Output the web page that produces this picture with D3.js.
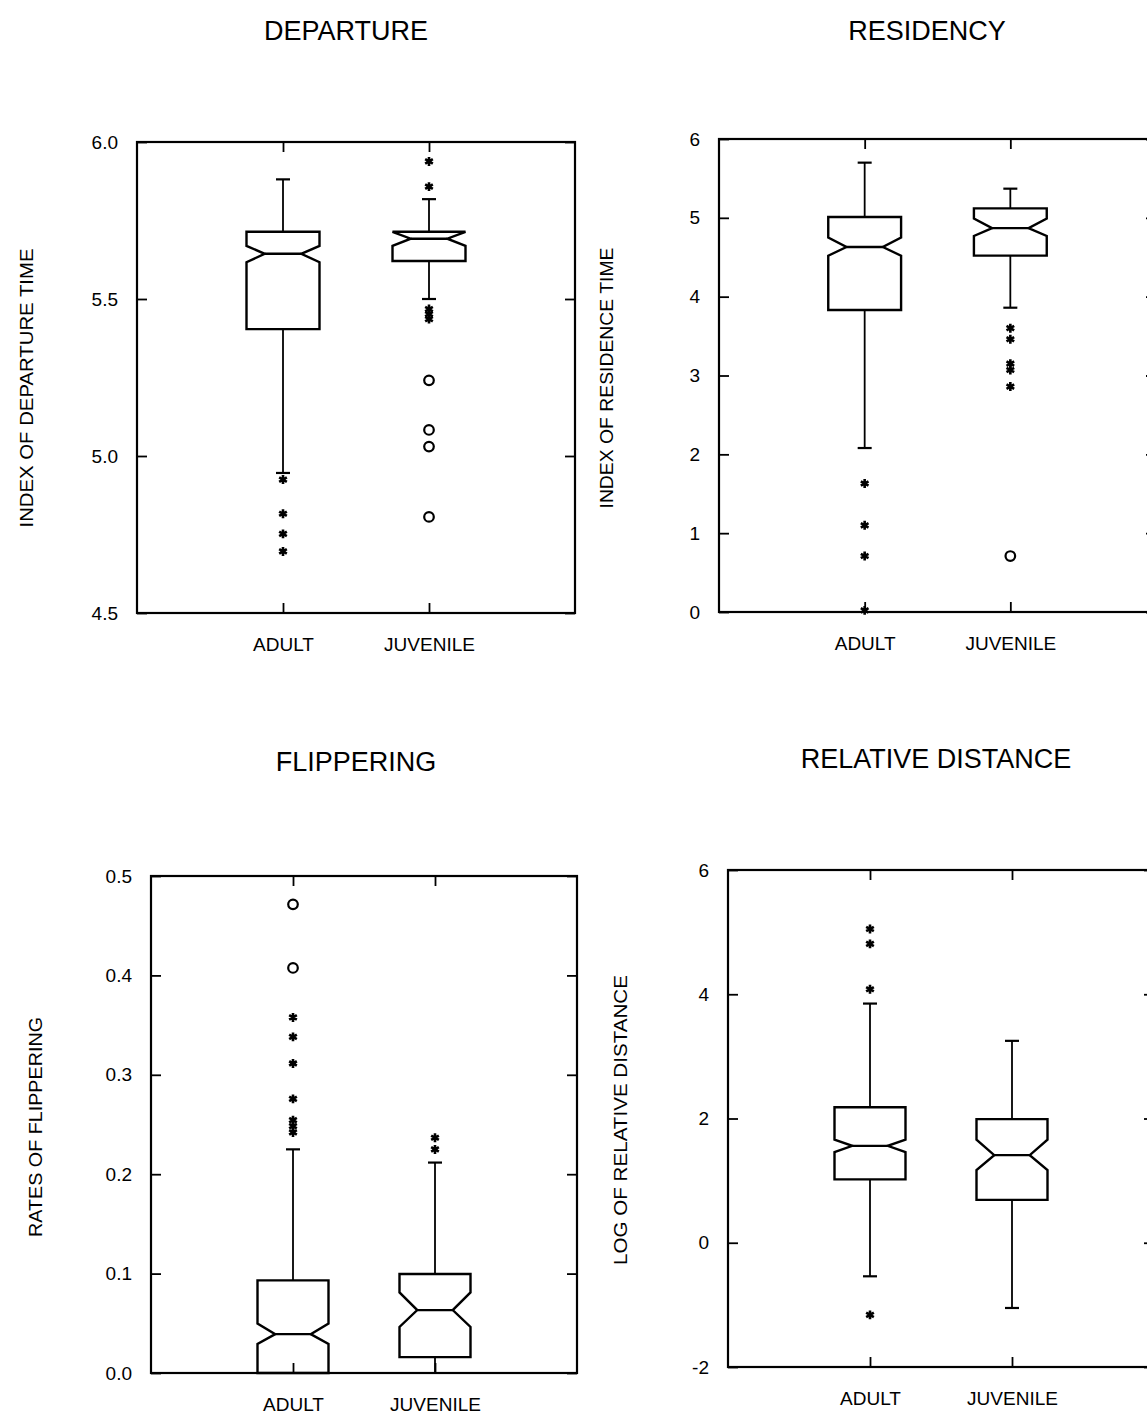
<!DOCTYPE html>
<html>
<head>
<meta charset="utf-8">
<script src="https://cdn.jsdelivr.net/npm/d3@7"></script>
<style>
body { margin: 0; background: #fff; }
text { font-family: "Liberation Sans", Arial, sans-serif; fill: #000; }
</style>
</head>
<body>
<svg width="1147" height="1415"></svg>
<script>
const groups = ['ADULT', 'JUVENILE'];

// box stats per group: [whisker lo, q1, notch lo, median, notch hi, q3, whisker hi]
const departureBoxes = [
  [4.946, 5.404, 5.617, 5.644, 5.669, 5.714, 5.881],
  [5.500, 5.621, 5.669, 5.692, 5.714, 5.714, 5.818]
];
const departureStars = [[4.925, 4.816, 4.752, 4.696], [5.938, 5.858, 5.468, 5.452, 5.436]];
const departureCircles = [[], [5.241, 5.083, 5.030, 4.806]];
const departureTicks = [4.5, 5.0, 5.5, 6.0];

const residencyBoxes = [
  [2.08, 3.83, 4.52, 4.63, 4.75, 5.01, 5.70],
  [3.86, 4.52, 4.77, 4.87, 4.99, 5.12, 5.37]
];
const residencyStars = [[1.63, 1.10, 0.71, 0.02], [3.60, 3.46, 3.15, 3.07, 2.86]];
const residencyCircles = [[], [0.71]];
const residencyTicks = [0, 1, 2, 3, 4, 5, 6];

const flipperingBoxes = [
  [0.000, 0.000, 0.0292, 0.0391, 0.0498, 0.0932, 0.225],
  [0.000, 0.016, 0.0463, 0.0633, 0.0811, 0.0996, 0.2117]
];
const flipperingStars = [[0.3577, 0.3381, 0.3114, 0.2758, 0.2544, 0.2484, 0.2420], [0.2367, 0.2249]];
const flipperingCircles = [[0.4715, 0.4075], []];
const flipperingTicks = [0, 0.1, 0.2, 0.3, 0.4, 0.5];

const distanceBoxes = [
  [-0.54, 1.02, 1.46, 1.56, 1.66, 2.18, 3.85],
  [-1.05, 0.69, 1.17, 1.41, 1.66, 1.99, 3.25]
];
const distanceStars = [[5.05, 4.81, 4.08, -1.16], []];
const distanceCircles = [[], []];
const distanceTicks = [-2, 0, 2, 4, 6];

const svg = d3.select('svg');
const intFmt = d => (d < 0 ? '-' : '') + Math.abs(d);

function drawPanel(p) {
  const g = svg.append('g');
  const x = d3.scalePoint().domain(groups).range([p.left, p.right]).padding(1);
  const y = d3.scaleLinear().domain(p.domain).range([p.bottom, p.top]);
  const hw = x.step() * 0.25, nw = hw * 0.5;

  // ticks
  g.append('g').attr('transform', `translate(${p.left},0)`)
    .call(d3.axisLeft(y).tickValues(p.ticks).tickFormat(p.fmt).tickSize(-10).tickPadding(19))
    .call(a => a.selectAll('text').attr('font-size', 19));
  g.append('g').attr('transform', `translate(${p.right},0)`)
    .call(d3.axisRight(y).tickValues(p.ticks).tickFormat('').tickSize(-10));
  g.append('g').attr('transform', `translate(0,${p.top})`)
    .call(d3.axisTop(x).tickFormat('').tickSize(-10));
  g.append('g').attr('transform', `translate(0,${p.bottom})`)
    .call(d3.axisBottom(x).tickSize(-10).tickPadding(25))
    .call(a => a.selectAll('text').attr('font-size', 19));
  g.selectAll('.domain').remove();
  g.selectAll('.tick line').attr('stroke', '#000').attr('stroke-width', 1.8);
  g.selectAll('.tick text').attr('fill', '#000').style('font-family', '"Liberation Sans", Arial, sans-serif');

  g.append('rect')
    .attr('x', p.left).attr('y', p.top)
    .attr('width', p.right - p.left).attr('height', p.bottom - p.top)
    .attr('fill', 'none').attr('stroke', '#000').attr('stroke-width', 2.2);

  p.boxes.forEach((b, i) => {
    const cx = x(groups[i]);
    const [lo, q1, nlo, med, nhi0, q3, hi] = b;
    const nhi = Math.min(nhi0, q3);
    const pts = [
      [cx - hw, y(q1)], [cx - hw, y(nlo)], [cx - nw, y(med)], [cx - hw, y(nhi)], [cx - hw, y(q3)],
      [cx + hw, y(q3)], [cx + hw, y(nhi)], [cx + nw, y(med)], [cx + hw, y(nlo)], [cx + hw, y(q1)]
    ];
    g.append('path').attr('d', d3.line()(pts) + 'Z')
      .attr('fill', 'none').attr('stroke', '#000').attr('stroke-width', 2.4).attr('stroke-linejoin', 'miter');
    g.append('line').attr('x1', cx - nw).attr('x2', cx + nw).attr('y1', y(med)).attr('y2', y(med))
      .attr('stroke', '#000').attr('stroke-width', 2.4);
    // whiskers
    [[q3, hi], [q1, lo]].forEach(([a, c]) => {
      if (a === c) return;
      g.append('line').attr('x1', cx).attr('x2', cx).attr('y1', y(a)).attr('y2', y(c))
        .attr('stroke', '#000').attr('stroke-width', 1.8);
      if (c !== p.domain[0]) {
        g.append('line').attr('x1', cx - 7).attr('x2', cx + 7).attr('y1', y(c)).attr('y2', y(c))
          .attr('stroke', '#000').attr('stroke-width', 2.2);
      }
    });
    g.selectAll(null).data(p.stars[i]).enter().append('path')
      .attr('transform', d => `translate(${cx},${y(d)})`)
      .attr('d', d3.symbol().type(d3.symbolAsterisk).size(55))
      .attr('fill', 'none').attr('stroke', '#000').attr('stroke-width', 2.6);
    g.selectAll(null).data(p.circles[i]).enter().append('circle')
      .attr('cx', cx).attr('cy', d => y(d)).attr('r', 4.8)
      .attr('fill', 'none').attr('stroke', '#000').attr('stroke-width', 2.2);
  });

  svg.append('text').attr('x', p.titleX).attr('y', p.titleY)
    .attr('text-anchor', 'middle').attr('font-size', 27).text(p.title);
  svg.append('text')
    .attr('transform', `translate(${p.labelX},${p.labelY}) rotate(-90)`)
    .attr('text-anchor', 'middle').attr('dy', '0.35em').attr('font-size', 19)
    .attr('textLength', p.labelLen).attr('lengthAdjust', 'spacingAndGlyphs')
    .text(p.label);
}

drawPanel({
  left: 137, right: 575, top: 142, bottom: 613, domain: [4.5, 6.0], ticks: departureTicks,
  fmt: d3.format('.1f'), boxes: departureBoxes, stars: departureStars, circles: departureCircles,
  title: 'DEPARTURE', titleX: 346, titleY: 40,
  label: 'INDEX OF DEPARTURE TIME', labelX: 26, labelY: 388, labelLen: 279
});
drawPanel({
  left: 719, right: 1156, top: 139, bottom: 612, domain: [0, 6], ticks: residencyTicks,
  fmt: intFmt, boxes: residencyBoxes, stars: residencyStars, circles: residencyCircles,
  title: 'RESIDENCY', titleX: 927, titleY: 40,
  label: 'INDEX OF RESIDENCE TIME', labelX: 606, labelY: 378, labelLen: 261
});
drawPanel({
  left: 151, right: 577, top: 876, bottom: 1373, domain: [0, 0.5], ticks: flipperingTicks,
  fmt: d3.format('.1f'), boxes: flipperingBoxes, stars: flipperingStars, circles: flipperingCircles,
  title: 'FLIPPERING', titleX: 356, titleY: 771,
  label: 'RATES OF FLIPPERING', labelX: 35, labelY: 1127, labelLen: 220
});
drawPanel({
  left: 728, right: 1154, top: 870, bottom: 1367, domain: [-2, 6], ticks: distanceTicks,
  fmt: intFmt, boxes: distanceBoxes, stars: distanceStars, circles: distanceCircles,
  title: 'RELATIVE DISTANCE', titleX: 936, titleY: 768,
  label: 'LOG OF RELATIVE DISTANCE', labelX: 620, labelY: 1120, labelLen: 290
});
</script>
</body>
</html>
